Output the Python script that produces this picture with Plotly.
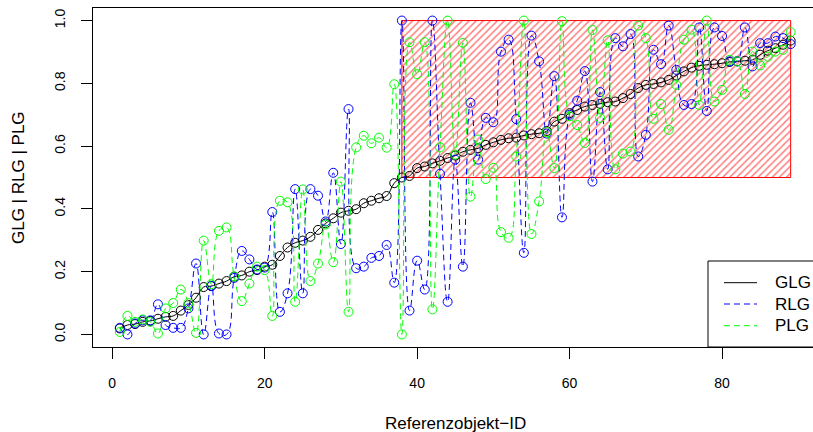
import plotly.graph_objects as go

ids = list(range(1, 90))

glg = [0.019, 0.030, 0.033, 0.040, 0.043, 0.050, 0.056, 0.059, 0.076, 0.094,
       0.117, 0.151, 0.154, 0.162, 0.170, 0.184, 0.188, 0.200, 0.205, 0.216,
       0.222, 0.250, 0.277, 0.292, 0.299, 0.311, 0.333, 0.354, 0.370, 0.388,
       0.394, 0.399, 0.418, 0.426, 0.434, 0.441, 0.482, 0.500, 0.505, 0.530,
       0.535, 0.545, 0.553, 0.562, 0.570, 0.582, 0.588, 0.593, 0.604, 0.612,
       0.620, 0.625, 0.627, 0.634, 0.638, 0.641, 0.648, 0.678, 0.687, 0.705,
       0.715, 0.726, 0.731, 0.735, 0.740, 0.742, 0.753, 0.766, 0.785, 0.795,
       0.798, 0.803, 0.811, 0.825, 0.838, 0.850, 0.856, 0.859, 0.861, 0.864,
       0.868, 0.870, 0.872, 0.875, 0.891, 0.904, 0.912, 0.923, 0.936]

rlg = [0.021, 0.000, 0.035, 0.045, 0.045, 0.096, 0.030, 0.021, 0.021, 0.083,
       0.226, 0.000, 0.155, 0.003, 0.000, 0.180, 0.266, 0.239, 0.207, 0.213,
       0.390, 0.072, 0.131, 0.463, 0.131, 0.463, 0.442, 0.360, 0.515, 0.288,
       0.718, 0.211, 0.216, 0.244, 0.250, 0.285, 0.165, 1.000, 0.076, 0.235,
       0.143, 1.000, 0.512, 0.104, 0.557, 0.216, 0.738, 0.557, 0.690, 0.676,
       0.901, 0.939, 0.686, 0.260, 0.952, 0.870, 0.640, 0.823, 0.373, 0.700,
       0.745, 0.839, 0.487, 0.772, 0.526, 0.944, 0.918, 0.957, 0.567, 0.636,
       0.907, 0.861, 0.984, 0.843, 0.731, 0.734, 0.978, 0.712, 0.978, 0.951,
       0.870, 0.870, 0.978, 0.854, 0.928, 0.928, 0.949, 0.944, 0.925]

plg = [0.008, 0.059, 0.040, 0.048, 0.040, 0.003, 0.083, 0.100, 0.143, 0.100,
       0.005, 0.299, 0.160, 0.330, 0.341, 0.185, 0.106, 0.162, 0.216, 0.205,
       0.059, 0.426, 0.421, 0.104, 0.462, 0.170, 0.226, 0.350, 0.230, 0.487,
       0.072, 0.596, 0.633, 0.609, 0.627, 0.595, 0.797, 0.000, 0.931, 0.829,
       0.931, 0.080, 0.596, 1.000, 0.573, 0.929, 0.439, 0.621, 0.495, 0.531,
       0.326, 0.308, 0.567, 1.000, 0.320, 0.424, 0.645, 0.530, 0.998, 0.695,
       0.667, 0.610, 0.970, 0.690, 0.937, 0.526, 0.576, 0.583, 0.984, 0.944,
       0.687, 0.734, 0.652, 0.795, 0.939, 0.971, 0.731, 1.000, 0.742, 0.779,
       0.875, 0.870, 0.766, 0.901, 0.857, 0.885, 0.901, 0.907, 0.963]

rect_x = [38, 89]
rect_y = [0.5, 1.0]

x_ticks = [0, 20, 40, 60, 80]
y_ticks = [0.0, 0.2, 0.4, 0.6, 0.8, 1.0]

series_names = ["GLG", "RLG", "PLG"]
series_colors = ["#000000", "#0000FF", "#00FF00"]
series_dash = ["solid", "6px,4px", "6px,4px"]

FONT = "Liberation Sans, Arial, Helvetica, sans-serif"

fig = go.Figure()

# hatched region
fig.add_trace(go.Scatter(
    x=[rect_x[0], rect_x[1], rect_x[1], rect_x[0], rect_x[0]],
    y=[rect_y[0], rect_y[0], rect_y[1], rect_y[1], rect_y[0]],
    mode="lines", fill="toself",
    fillcolor="rgba(0,0,0,0)",
    fillpattern=dict(shape="/", fgcolor="#FF0000", bgcolor="rgba(0,0,0,0)",
                     size=5, solidity=0.3, fillmode="overlay"),
    line=dict(color="#FF0000", width=1),
    hoverinfo="skip", showlegend=False,
))

for name, vals, col, dash in zip(series_names, [glg, rlg, plg], series_colors, series_dash):
    fig.add_trace(go.Scatter(
        x=ids, y=vals, name=name, mode="lines+markers",
        line=dict(color=col, width=1, dash=dash, shape="spline", smoothing=1.3),
        marker=dict(symbol="circle-open", size=9, color=col, line=dict(width=1, color=col)),
        showlegend=False,
    ))

L, T, B = 93, 8, 85
W, H = 813, 432
pw = W - L
ph = H - T - B

def px(xp):
    return (xp - L) / pw

def py(yp):
    return (H - B - yp) / ph

shapes = []
annotations = []
# legend box
shapes.append(dict(type="rect", xref="paper", yref="paper",
                   x0=px(708), x1=1.05, y0=0, y1=py(261),
                   line=dict(color="black", width=1), fillcolor="white", layer="above"))
rows = [282.7, 304.0, 325.7]
for name, col, dash, r in zip(series_names, series_colors, series_dash, rows):
    shapes.append(dict(type="line", xref="paper", yref="paper",
                       x0=px(724), x1=px(757), y0=py(r), y1=py(r),
                       line=dict(color=col, width=1, dash=dash), layer="above"))
    annotations.append(dict(text=name, xref="paper", yref="paper", x=px(773), y=py(r),
                            xanchor="left", yanchor="middle", showarrow=False,
                            font=dict(family=FONT, size=17, color="black")))

annotations.append(dict(text="Referenzobjekt\u2212ID", xref="paper", yref="paper",
                        x=px(455), y=py(423), xanchor="center", yanchor="middle",
                        showarrow=False, font=dict(family=FONT, size=17, color="black")))
annotations.append(dict(text="GLG | RLG | PLG", xref="paper", yref="paper",
                        x=px(18.5), y=0.5, xanchor="center", yanchor="middle", textangle=-90,
                        showarrow=False, font=dict(family=FONT, size=17, color="black")))

fig.update_layout(
    width=W, height=H,
    margin=dict(l=L, r=0, t=T, b=B, pad=0),
    paper_bgcolor="white", plot_bgcolor="white",
    font=dict(family=FONT, size=14, color="black"),
    shapes=shapes, annotations=annotations,
    showlegend=False,
)
fig.update_xaxes(
    range=[-2.52, -2.52 + pw / 7.623], tickvals=x_ticks, ticktext=[str(v) for v in x_ticks],
    showgrid=False, zeroline=False, showline=True, mirror=True, linecolor="black", linewidth=1,
    ticks="outside", ticklen=11, tickwidth=1, tickcolor="black", ticklabelstandoff=12,
    tickfont=dict(family=FONT, size=14, color="black"),
)
fig.update_yaxes(
    range=[-0.04, 1.04], tickvals=y_ticks, ticktext=["%.1f" % v for v in y_ticks],
    showgrid=False, zeroline=False, showline=True, mirror=False, linecolor="black", linewidth=1,
    ticks="outside", ticklen=11, tickwidth=1, tickcolor="black", tickangle=-90,
    ticklabelstandoff=10,
    tickfont=dict(family=FONT, size=14, color="black"),
)

fig.write_html(
    "out.html",
    config={"displayModeBar": False},
    post_script="document.body.style.margin='0px';document.body.style.overflow='hidden';",
)
